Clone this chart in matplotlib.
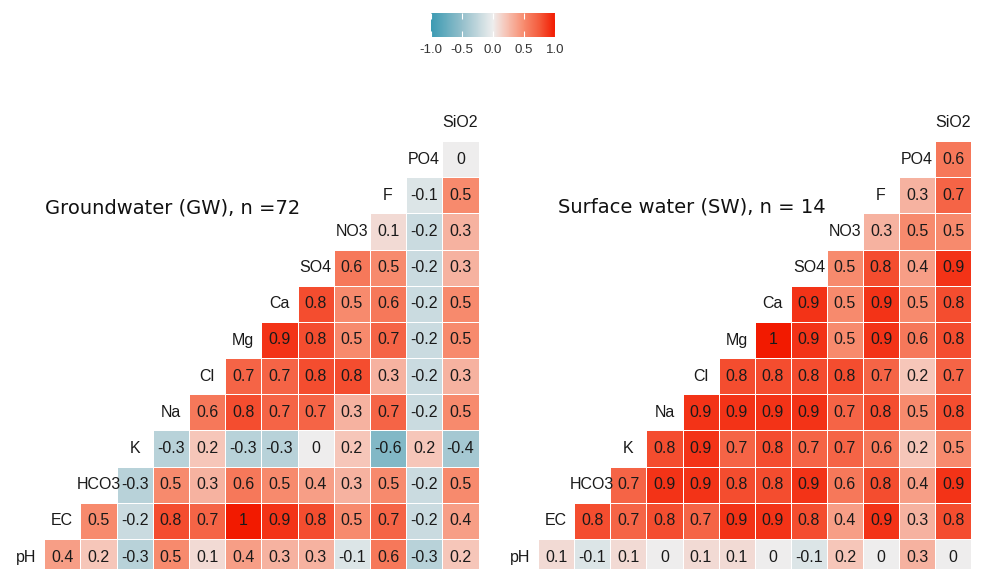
import numpy as np
import matplotlib
matplotlib.use("Agg")
import matplotlib.pyplot as plt
from matplotlib.colors import LinearSegmentedColormap, Normalize
from matplotlib.colorbar import ColorbarBase

# variables, bottom row first
variables = ["pH", "EC", "HCO3", "K", "Na", "Cl", "Mg", "Ca", "SO4", "NO3", "F", "PO4", "SiO2"]

# Groundwater: each row holds correlations with the variables after it
gw_rows = [
    [0.4, 0.2, -0.3, 0.5, 0.1, 0.4, 0.3, 0.3, -0.1, 0.6, -0.3, 0.2],
    [0.5, -0.2, 0.8, 0.7, 1, 0.9, 0.8, 0.5, 0.7, -0.2, 0.4],
    [-0.3, 0.5, 0.3, 0.6, 0.5, 0.4, 0.3, 0.5, -0.2, 0.5],
    [-0.3, 0.2, -0.3, -0.3, 0, 0.2, -0.6, 0.2, -0.4],
    [0.6, 0.8, 0.7, 0.7, 0.3, 0.7, -0.2, 0.5],
    [0.7, 0.7, 0.8, 0.8, 0.3, -0.2, 0.3],
    [0.9, 0.8, 0.5, 0.7, -0.2, 0.5],
    [0.8, 0.5, 0.6, -0.2, 0.5],
    [0.6, 0.5, -0.2, 0.3],
    [0.1, -0.2, 0.3],
    [-0.1, 0.5],
    [0],
]

# Surface water
sw_rows = [
    [0.1, -0.1, 0.1, 0, 0.1, 0.1, 0, -0.1, 0.2, 0, 0.3, 0],
    [0.8, 0.7, 0.8, 0.7, 0.9, 0.9, 0.8, 0.4, 0.9, 0.3, 0.8],
    [0.7, 0.9, 0.9, 0.8, 0.8, 0.9, 0.6, 0.8, 0.4, 0.9],
    [0.8, 0.9, 0.7, 0.8, 0.7, 0.7, 0.6, 0.2, 0.5],
    [0.9, 0.9, 0.9, 0.9, 0.7, 0.8, 0.5, 0.8],
    [0.8, 0.8, 0.8, 0.8, 0.7, 0.2, 0.7],
    [1, 0.9, 0.5, 0.9, 0.6, 0.8],
    [0.9, 0.5, 0.9, 0.5, 0.8],
    [0.5, 0.8, 0.4, 0.9],
    [0.3, 0.5, 0.5],
    [0.3, 0.7],
    [0.6],
]

gw_title = "Groundwater (GW), n =72"
sw_title = "Surface water (SW), n = 14"

# low / mid / high like ggcorr, with a few stops so the mid tones come out
# closer to the Lab blending of the original
cmap = LinearSegmentedColormap.from_list("ggcorr", [
    (0.0, "#3B9AB2"), (0.25, "#94BFCB"), (0.5, "#EEEEEE"),
    (0.6, "#F6C6B9"), (0.75, "#F78B6E"), (0.88, "#F4593A"), (1.0, "#F21A00"),
])
norm = Normalize(-1, 1)

W, H = 981, 569
fig = plt.figure(figsize=(W / 100, H / 100), dpi=100)


def draw_panel(rect, rows):
    n = len(variables)
    mat = np.full((n, n), np.nan)
    for i, vals in enumerate(rows):
        for k, v in enumerate(vals):
            mat[i, i + 1 + k] = v
    ax = fig.add_axes(rect)
    ax.pcolormesh(np.arange(n + 1) - 0.5, np.arange(n + 1) - 0.5,
                  np.ma.masked_invalid(mat), cmap=cmap, norm=norm,
                  edgecolors="white", linewidth=0.6)
    for i in range(n):
        ax.text(i, i, variables[i], ha="center", va="center",
                fontsize=11.5, color="#1a1a1a", family="Liberation Sans")
        for j in range(i + 1, n):
            ax.text(j, i, "%g" % mat[i, j], ha="center", va="center",
                    fontsize=11.5, color="#1a1a1a", family="Liberation Sans")
    ax.set_xlim(-0.5, n - 0.5)
    ax.set_ylim(-0.5, n - 0.5)
    ax.axis("off")
    return ax


def px_rect(left, right, top, bottom):
    return [left / W, (H - bottom) / H, (right - left) / W, (bottom - top) / H]


draw_panel(px_rect(7.9, 478.5, 104.9, 575.1), gw_rows)
draw_panel(px_rect(502, 971.3, 104.9, 575.1), sw_rows)

fig.text(45 / W, 1 - 208 / H, gw_title, ha="left", va="center",
         fontsize=14, family="DejaVu Sans", color="#111111")
fig.text(558 / W, 1 - 207 / H, sw_title, ha="left", va="center",
         fontsize=14, family="DejaVu Sans", color="#111111")

# colour legend on top
cax = fig.add_axes(px_rect(431, 555, 13, 37))
cb = ColorbarBase(cax, cmap=cmap, norm=norm, orientation="horizontal",
                  ticks=[-1, -0.5, 0, 0.5, 1])
cb.outline.set_visible(False)
cb.ax.set_xticklabels(["-1.0", "-0.5", "0.0", "0.5", "1.0"])
cax.tick_params(axis="x", direction="in", color="white", length=4, width=0.8,
                top=True, labelsize=9.5, labelcolor="#333333", pad=5)
for lab in cax.get_xticklabels():
    lab.set_family("Liberation Sans")

fig.savefig("out.png", dpi=100)
